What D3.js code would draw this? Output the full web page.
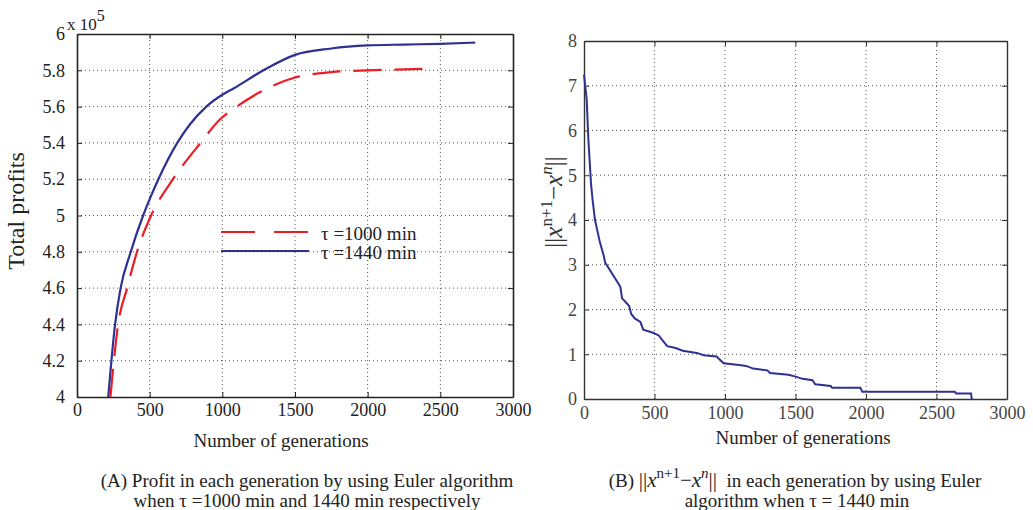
<!DOCTYPE html>
<html>
<head>
<meta charset="utf-8">
<script src="https://cdn.jsdelivr.net/npm/d3@7"></script>
<style>
  body { margin: 0; background: #fff; }
  svg text { font-family: "Liberation Serif", "Times New Roman", serif; }
</style>
</head>
<body>
<div id="chart"></div>
<script>
// panel A: total profit (x 10^5) per generation
var genBlue = [215, 262, 300, 370, 455, 505, 560, 690, 775, 890, 1000, 1077, 1283, 1500, 1750, 2000, 2250, 2500, 2740];
var profitBlue = [4.0, 4.4, 4.6, 4.8, 5.0, 5.1, 5.2, 5.4, 5.5, 5.6, 5.665, 5.7, 5.8, 5.885, 5.92, 5.937, 5.942, 5.946, 5.953];
var genRed = [230, 283, 345, 413, 510, 660, 850, 985, 1100, 1260, 1500, 1750, 2000, 2250, 2450];
var profitRed = [4.0, 4.4, 4.6, 4.8, 5.0, 5.2, 5.4, 5.53, 5.6, 5.68, 5.76, 5.79, 5.80, 5.805, 5.81];
var legendLabels = ["\u03c4 =1000 min", "\u03c4 =1440 min"];
var profitTicks = [4, 4.2, 4.4, 4.6, 4.8, 5, 5.2, 5.4, 5.6, 5.8, 6];

// panel B: ||x^(n+1) - x^n|| per generation
var genNorm = [0, 19, 31, 50, 61, 78, 113, 140, 150, 200, 250, 258, 270, 300, 320, 335, 360, 400, 420, 490, 530, 560, 590, 650, 700, 800, 850, 940, 990, 1100, 1150, 1200, 1300, 1320, 1450, 1500, 1550, 1620, 1640, 1750, 1760, 1960, 1975, 2630, 2640, 2745, 2750];
var normVal = [7.25, 6.7, 5.8, 4.8, 4.45, 4.0, 3.5, 3.2, 3.05, 2.8, 2.55, 2.5, 2.25, 2.15, 2.08, 1.9, 1.8, 1.72, 1.55, 1.48, 1.42, 1.3, 1.18, 1.14, 1.08, 1.03, 0.98, 0.95, 0.8, 0.76, 0.74, 0.68, 0.64, 0.58, 0.54, 0.5, 0.45, 0.42, 0.33, 0.29, 0.25, 0.25, 0.16, 0.16, 0.125, 0.125, 0];
var genTicks = [0, 500, 1000, 1500, 2000, 2500, 3000];
var normTicks = [0, 1, 2, 3, 4, 5, 6, 7, 8];

var blue = "#2e3192", red = "#ed1c24";

var svg = d3.select("#chart").append("svg")
  .attr("width", 1033).attr("height", 510);
svg.append("rect").attr("width", 1033).attr("height", 510).attr("fill", "#fff");

// scales
var xA = d3.scaleLinear().domain([0, 3000]).range([77, 513]);
var yA = d3.scaleLinear().domain([4, 6]).range([397, 34]);
var xB = d3.scaleLinear().domain([0, 3000]).range([584, 1007]);
var yB = d3.scaleLinear().domain([0, 8]).range([399, 41]);

// draws grid, box, inward ticks and labels (matlab style)
function drawFrame(x, y, xt, yt, fmtY, opts) {
  var g = svg.append("g");
  var x0 = x.range()[0], x1 = x.range()[1], y0 = y.range()[0], y1 = y.range()[1];

  // dotted grid
  g.selectAll(".gx").data(xt.slice(1, -1)).enter().append("line")
    .attr("x1", d => x(d)).attr("x2", d => x(d)).attr("y1", y0).attr("y2", y1)
    .attr("stroke", "#555").attr("stroke-width", 1).attr("stroke-dasharray", "1,3");
  g.selectAll(".gy").data(yt.slice(1, -1)).enter().append("line")
    .attr("y1", d => y(d)).attr("y2", d => y(d)).attr("x1", x0).attr("x2", x1)
    .attr("stroke", "#555").attr("stroke-width", 1).attr("stroke-dasharray", "1,3");

  g.append("g").attr("transform", "translate(0," + y0 + ")")
    .call(d3.axisBottom(x).tickValues(xt).tickFormat(d3.format("d"))
      .tickSizeInner(-5).tickSizeOuter(0).tickPadding(opts.xpad));
  g.append("g").attr("transform", "translate(" + x0 + ",0)")
    .call(d3.axisLeft(y).tickValues(yt).tickFormat(fmtY)
      .tickSizeInner(-5).tickSizeOuter(0).tickPadding(opts.ypad));
  g.append("g").attr("transform", "translate(0," + y1 + ")")
    .call(d3.axisTop(x).tickValues(xt).tickSizeInner(-5).tickSizeOuter(0).tickFormat(""));
  g.append("g").attr("transform", "translate(" + x1 + ",0)")
    .call(d3.axisRight(y).tickValues(yt).tickSizeInner(-5).tickSizeOuter(0).tickFormat(""));

  g.selectAll(".domain").attr("stroke", opts.box).attr("stroke-width", opts.boxW);
  g.selectAll(".tick line").attr("stroke", opts.box);
  g.selectAll(".tick text").attr("font-family", "Liberation Serif")
    .attr("font-size", opts.fs).attr("fill", opts.txt);
  return g;
}

drawFrame(xA, yA, genTicks, profitTicks, d3.format("~g"),
  { xpad: 6, ypad: 12, box: "#222", boxW: 1.6, fs: 18, txt: "#222" });
drawFrame(xB, yB, genTicks, normTicks, d3.format("d"),
  { xpad: 7, ypad: 7, box: "#333", boxW: 1.4, fs: 18, txt: "#444" });

// panel A curves
var lineA = d3.line().x(d => xA(d[0])).y(d => yA(d[1])).curve(d3.curveMonotoneX);
var blueData = d3.zip(genBlue, profitBlue);
var redData = d3.zip(genRed, profitRed);

svg.append("path").datum(redData).attr("d", lineA)
  .attr("fill", "none").attr("stroke", red).attr("stroke-width", 2.2)
  .attr("stroke-dasharray", "28,13");
svg.append("path").datum(blueData).attr("d", lineA)
  .attr("fill", "none").attr("stroke", blue).attr("stroke-width", 2.2);

// legend
var leg = svg.append("g");
[[red, "34,19", 232], [blue, null, 251]].forEach(function (s, i) {
  leg.append("line").attr("x1", 221).attr("x2", 309).attr("y1", s[2]).attr("y2", s[2])
    .attr("stroke", s[0]).attr("stroke-width", 2.2).attr("stroke-dasharray", s[1]);
  leg.append("text").attr("x", 321).attr("y", s[2] + 8).attr("font-size", 19)
    .attr("fill", "#222").text(legendLabels[i]);
});

// exponent
var ex = svg.append("text").attr("x", 67).attr("y", 30).attr("font-size", 17).attr("fill", "#222");
ex.append("tspan").text("x 10");
ex.append("tspan").attr("dy", -9).attr("font-size", 16).text("5");

// axis titles
svg.append("text").attr("transform", "translate(24,211) rotate(-90)")
  .attr("text-anchor", "middle").attr("font-size", 24).attr("fill", "#222").text("Total profits");
svg.append("text").attr("x", 281).attr("y", 447).attr("text-anchor", "middle")
  .attr("font-size", 19).attr("fill", "#222").text("Number of generations");
svg.append("text").attr("x", 803).attr("y", 444).attr("text-anchor", "middle")
  .attr("font-size", 19).attr("fill", "#222").text("Number of generations");

// norm label, rotated
var nl = svg.append("text").attr("transform", "translate(562,202) rotate(-90)")
  .attr("text-anchor", "middle").attr("font-size", 25).attr("fill", "#333");
nl.append("tspan").text("||");
nl.append("tspan").attr("font-style", "italic").text("x");
nl.append("tspan").attr("dy", -10).attr("font-size", 17).text("n+1");
nl.append("tspan").attr("dy", 10).text("\u2212");
nl.append("tspan").attr("font-style", "italic").text("x");
nl.append("tspan").attr("dy", -10).attr("font-size", 17).attr("font-style", "italic").text("n");
nl.append("tspan").attr("dy", 10).text("||");

// panel B curve
var lineB = d3.line().x(d => xB(d[0])).y(d => yB(d[1]));
svg.append("path").datum(d3.zip(genNorm, normVal)).attr("d", lineB)
  .attr("fill", "none").attr("stroke", blue).attr("stroke-width", 2);

// captions
var capA = svg.append("g").attr("font-size", 19).attr("fill", "#222");
capA.append("text").attr("x", 307).attr("y", 487).attr("text-anchor", "middle")
  .text("(A) Profit  in each generation by using Euler algorithm");
capA.append("text").attr("x", 307).attr("y", 507).attr("text-anchor", "middle")
  .text("when \u03c4 =1000 min and 1440 min respectively");

var capB = svg.append("g").attr("font-size", 19).attr("fill", "#222");
var b1 = capB.append("text").attr("x", 795).attr("y", 487).attr("text-anchor", "middle")
  .attr("xml:space", "preserve");
b1.append("tspan").text("(B) ");
b1.append("tspan").attr("font-size", 21).text("||");
b1.append("tspan").attr("font-style", "italic").attr("font-size", 21).text("x");
b1.append("tspan").attr("dy", -9).attr("font-size", 15).text("n+1");
b1.append("tspan").attr("dy", 9).attr("font-size", 21).text("\u2212");
b1.append("tspan").attr("font-style", "italic").attr("font-size", 21).text("x");
b1.append("tspan").attr("dy", -9).attr("font-size", 15).attr("font-style", "italic").text("n");
b1.append("tspan").attr("dy", 9).attr("font-size", 21).text("||");
b1.append("tspan").text("  in each generation by using Euler");
capB.append("text").attr("x", 797).attr("y", 507).attr("text-anchor", "middle")
  .text("algorithm when \u03c4 = 1440 min");
</script>
</body>
</html>
